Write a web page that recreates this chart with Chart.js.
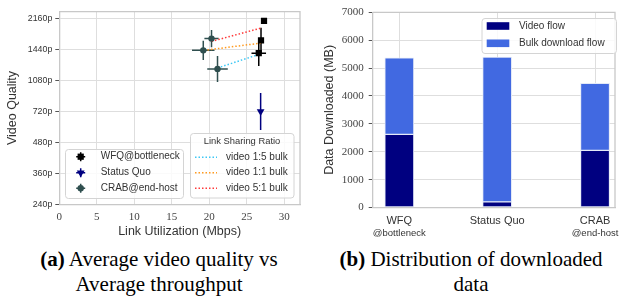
<!DOCTYPE html>
<html><head><meta charset="utf-8">
<script src="https://cdn.jsdelivr.net/npm/chart.js@4/dist/chart.umd.min.js"></script>
<style>
html,body{margin:0;padding:0;background:#fff;}
body{width:619px;height:302px;position:relative;overflow:hidden;}
#c1{position:absolute;left:0;top:0;}
#c2{position:absolute;left:310px;top:0;}
.cap{position:absolute;top:247px;font-family:"Liberation Serif","Times New Roman",serif;font-size:21px;line-height:25px;text-align:center;color:#000;white-space:nowrap;}
.cap b{font-weight:bold;}
</style></head><body>
<canvas id="c1" width="310" height="240"></canvas>
<canvas id="c2" width="309" height="240"></canvas>
<div class="cap" style="left:0;width:318px"><b>(a)</b> Average video quality vs<br>Average throughput</div>
<div class="cap" style="left:323px;width:296px"><b>(b)</b> Distribution of downloaded<br>data</div>
<script>
// ---------- data (left chart) ----------
const qualityLabels = ['240p','360p','480p','720p','1080p','1440p','2160p'];
const wfqX = [27.3, 26.9, 26.6];
const wfqY = [5.93, 5.30, 4.89];
const wfqXErr = [0.15, 0.3, 0.97];
const wfqYErr = [0.05, 0.41, 0.42];
const sqX = [26.85];
const sqY = [3.0];
const sqXErr = [0.1];
const sqYErr = [0.6];
const crabX = [20.3, 19.2, 21.1];
const crabY = [5.36, 4.98, 4.38];
const crabXErr = [0.95, 1.5, 1.37];
const crabYErr = [0.28, 0.31, 0.42];
const ratioLabels = ['video 1:5 bulk','video 1:1 bulk','video 5:1 bulk'];
const ratioX = [[21.1, 26.76],[19.3, 27.07],[20.3, 26.9]];
const ratioY = [[4.41, 4.86],[4.98, 5.22],[5.27, 5.70]];
// ---------- data (right chart) ----------
const categories = ['WFQ','Status Quo','CRAB'];
const categorySub = ['@bottleneck','','@end-host'];
const videoMB = [2620, 200, 2050];
const bulkMB = [2750, 5190, 2400];

const SANS = '"Liberation Sans", Arial, sans-serif';
const SERIF = '"Liberation Serif", "Times New Roman", serif';
const GRID = '#dedede', SPINE = '#c8c8c8', TXT = '#333';
const ratioColors = ['#3cc8f5', '#ff9a1f', '#ff3a3a'];

function pts(xs, ys){ return xs.map((x,i)=>({x, y: ys[i]})); }
function roundRect(ctx,x,y,w,h,r){ctx.beginPath();ctx.moveTo(x+r,y);ctx.arcTo(x+w,y,x+w,y+h,r);ctx.arcTo(x+w,y+h,x,y+h,r);ctx.arcTo(x,y+h,x,y,r);ctx.arcTo(x,y,x+w,y,r);ctx.closePath();}

const frame = {
  id:'frame',
  beforeDatasetsDraw(chart){
    const a = chart.chartArea, ctx = chart.ctx;
    ctx.save(); ctx.strokeStyle = SPINE; ctx.lineWidth = 1.3;
    ctx.beginPath(); ctx.moveTo(a.left, a.top); ctx.lineTo(a.right, a.top); ctx.lineTo(a.right, a.bottom); ctx.stroke();
    ctx.restore();
  }
};

const errorBars = {
  id:'errorBars',
  beforeDatasetsDraw(chart){
    const ctx = chart.ctx, xs = chart.scales.x, ys = chart.scales.y;
    ctx.save();
    chart.data.datasets.forEach(ds=>{
      if(!ds.errX) return;
      ctx.strokeStyle = ds.errColor; ctx.lineWidth = 1.5;
      ds.data.forEach((p,j)=>{
        const px = xs.getPixelForValue(p.x), py = ys.getPixelForValue(p.y);
        ctx.beginPath();
        ctx.moveTo(xs.getPixelForValue(p.x-ds.errX[j]), py);
        ctx.lineTo(xs.getPixelForValue(p.x+ds.errX[j]), py);
        ctx.moveTo(px, ys.getPixelForValue(p.y-ds.errY[j]));
        ctx.lineTo(px, ys.getPixelForValue(p.y+ds.errY[j]));
        ctx.stroke();
      });
    });
    ctx.restore();
  }
};

const legendsA = {
  id:'legendsA',
  afterDraw(chart){
    const ctx = chart.ctx;
    const dsets = chart.data.datasets;
    ctx.save();
    roundRect(ctx, 65.5, 149.5, 118, 49, 3);
    ctx.fillStyle = 'rgba(255,255,255,0.85)'; ctx.fill();
    ctx.strokeStyle = '#d4d4d4'; ctx.lineWidth = 1; ctx.stroke();
    const rows1 = [156.7, 172.7, 188.3];
    ctx.font = '10px ' + SANS; ctx.textBaseline = 'middle'; ctx.textAlign = 'left';
    for(let i=0;i<3;i++){
      const ds = dsets[i], cx = 80.7, cy = rows1[i];
      ctx.strokeStyle = ds.errColor; ctx.lineWidth = 1.5;
      ctx.beginPath(); ctx.moveTo(cx-4.5, cy); ctx.lineTo(cx+4.5, cy); ctx.moveTo(cx, cy-4.5); ctx.lineTo(cx, cy+4.5); ctx.stroke();
      ctx.fillStyle = ds.backgroundColor; ctx.strokeStyle = ds.borderColor;
      Chart.helpers.drawPoint(ctx, {pointStyle: ds.pointStyle, radius: ds.radius, rotation: ds.rotation||0, borderWidth: 0}, cx, cy);
      ctx.fillStyle = TXT; ctx.fillText(ds.label, 100.7, cy);
    }
    roundRect(ctx, 190.5, 133.5, 103.5, 64.5, 3);
    ctx.fillStyle = 'rgba(255,255,255,0.85)'; ctx.fill();
    ctx.strokeStyle = '#d4d4d4'; ctx.lineWidth = 1; ctx.stroke();
    ctx.fillStyle = TXT; ctx.font = '9.4px ' + SANS; ctx.textAlign = 'center';
    ctx.fillText('Link Sharing Ratio', 242, 141.7);
    ctx.textAlign = 'left'; ctx.font = '10px ' + SANS;
    const rows2 = [157.3, 172.7, 188.3];
    for(let i=0;i<3;i++){
      const ds = dsets[3+i], cy = rows2[i];
      ctx.strokeStyle = ds.borderColor; ctx.lineWidth = 1.5; ctx.setLineDash([1.5,2]);
      ctx.beginPath(); ctx.moveTo(195, cy); ctx.lineTo(217, cy); ctx.stroke();
      ctx.setLineDash([]);
      ctx.fillStyle = TXT; ctx.fillText(ds.label, 226, cy);
    }
    ctx.restore();
  }
};

const legendB = {
  id:'legendB',
  afterDraw(chart){
    const ctx = chart.ctx, dsets = chart.data.datasets;
    ctx.save();
    roundRect(ctx, 172, 18.5, 134.5, 35, 3);
    ctx.fillStyle = 'rgba(255,255,255,0.85)'; ctx.fill();
    ctx.strokeStyle = '#d4d4d4'; ctx.lineWidth = 1; ctx.stroke();
    const rows = [26, 43.3];
    ctx.font = '10px ' + SANS; ctx.textBaseline = 'middle'; ctx.textAlign = 'left';
    for(let i=0;i<2;i++){
      ctx.fillStyle = dsets[i].backgroundColor;
      ctx.fillRect(176.7, rows[i]-3.8, 22.6, 7.6);
      ctx.fillStyle = TXT; ctx.fillText(dsets[i].label, 209, rows[i]);
    }
    ctx.restore();
  }
};

const subLabels = {
  id:'subLabels',
  afterDraw(chart){
    const ctx = chart.ctx, xs = chart.scales.x;
    ctx.save(); ctx.fillStyle = TXT; ctx.font = '9.5px ' + SANS; ctx.textAlign = 'center'; ctx.textBaseline = 'middle';
    categorySub.forEach((t,i)=>{ if(t) ctx.fillText(t, xs.getPixelForValue(i), 233.3); });
    ctx.restore();
  }
};

new Chart(document.getElementById('c1'), {
  type:'scatter',
  data:{datasets:[
    {label:'WFQ@bottleneck', data:pts(wfqX,wfqY), errX:wfqXErr, errY:wfqYErr, errColor:'#000', pointStyle:'rect', radius:4.4, backgroundColor:'#000', borderColor:'#000', borderWidth:0, order:1},
    {label:'Status Quo', data:pts(sqX,sqY), errX:sqXErr, errY:sqYErr, errColor:'#000080', pointStyle:'triangle', rotation:180, radius:4.5, backgroundColor:'#000080', borderColor:'#000080', borderWidth:0, order:1},
    {label:'CRAB@end-host', data:pts(crabX,crabY), errX:crabXErr, errY:crabYErr, errColor:'#2F4F4F', pointStyle:'circle', radius:3.2, backgroundColor:'#2F4F4F', borderColor:'#2F4F4F', borderWidth:0, order:1},
    ...ratioLabels.map((l,i)=>({label:l, data:pts(ratioX[i],ratioY[i]), showLine:true, borderColor:ratioColors[i], backgroundColor:ratioColors[i], borderWidth:1.5, borderDash:[1.5,2], pointRadius:0, order:2}))
  ]},
  options:{
    responsive:false, maintainAspectRatio:false, animation:false,
    layout:{padding:{left:0,right:10,top:11.7,bottom:0}},
    plugins:{legend:{display:false}, tooltip:{enabled:false}},
    scales:{
      x:{type:'linear', min:0, max:32.1,
         ticks:{stepSize:5, includeBounds:false, font:{family:SERIF,size:11}, color:'#444', padding:6, maxRotation:0},
         grid:{color:GRID, drawTicks:false}, border:{color:SPINE, width:1.3},
         title:{display:true, text:'Link Utilization (Mbps)', font:{family:SANS,size:12.5}, color:TXT, padding:{top:0,bottom:1}},
         afterFit(s){ s.height = 35.7; }},
      y:{type:'linear', min:0, max:6.23,
         ticks:{stepSize:1, includeBounds:false, callback:v=>qualityLabels[Math.round(v)], font:{family:SANS,size:8.8}, color:TXT, padding:3},
         grid:{color:GRID, tickLength:4, tickColor:'#555'}, border:{color:SPINE, width:1.3},
         title:{display:true, text:'Video Quality', font:{family:SANS,size:12.5}, color:TXT, padding:{top:5.5,bottom:0}},
         afterFit(s){ s.width = 59.3; }}
    }
  },
  plugins:[frame, errorBars, legendsA]
});

new Chart(document.getElementById('c2'), {
  type:'bar',
  data:{datasets:[
    {label:'Video flow', data:pts([0,1,2],videoMB), backgroundColor:'#000080', borderColor:'#e3e9f7', borderWidth:1, borderSkipped:false, barThickness:29},
    {label:'Bulk download flow', data:pts([0,1,2],bulkMB), backgroundColor:'#4169E1', borderColor:'#e3e9f7', borderWidth:1, borderSkipped:false, barThickness:29}
  ]},
  options:{
    responsive:false, maintainAspectRatio:false, animation:false,
    layout:{padding:{left:0,right:4,top:12.3,bottom:0}},
    plugins:{legend:{display:false}, tooltip:{enabled:false}},
    scales:{
      x:{type:'linear', min:-0.272, max:2.204, stacked:true, offset:false,
         ticks:{stepSize:1, includeBounds:false, callback:v=>categories[Math.round(v)], font:{family:SANS,size:11}, color:TXT, padding:6.5, maxRotation:0},
         grid:{color:GRID, drawTicks:false, offset:false}, border:{color:SPINE, width:1.3},
         afterFit(s){ s.height = 32.5; }},
      y:{type:'linear', stacked:true, min:0, max:7000,
         ticks:{stepSize:1000, callback:v=>String(v), font:{family:SERIF,size:11}, color:'#444', padding:5},
         grid:{color:GRID, tickLength:4, tickColor:'#555'}, border:{color:SPINE, width:1.3},
         title:{display:true, text:'Data Downloaded (MB)', font:{family:SANS,size:12.5}, color:TXT, padding:{top:12.5,bottom:0}},
         afterFit(s){ s.width = 62.7; }}
    }
  },
  plugins:[frame, legendB, subLabels]
});
</script>
</body></html>
